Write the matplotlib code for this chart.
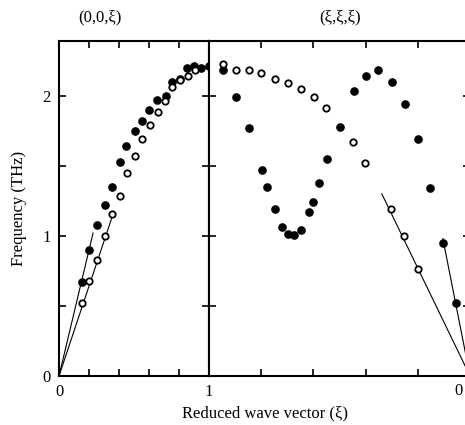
import matplotlib
matplotlib.use('Agg')
import matplotlib.pyplot as plt

plt.rcParams['font.family'] = ['Liberation Serif', 'DejaVu Serif']

# (0,0,xi) branch, left panel
left_filled_x = [0.153, 0.198, 0.256, 0.307, 0.353, 0.409, 0.449, 0.504, 0.551, 0.602, 0.656,
                 0.711, 0.756, 0.809, 0.856, 0.900, 0.949, 1.000]
left_filled_f = [0.67, 0.90, 1.08, 1.22, 1.35, 1.53, 1.64, 1.75, 1.82, 1.895, 1.97,
                 2.00, 2.095, 2.12, 2.20, 2.21, 2.20, 2.21]
left_open_x = [0.155, 0.202, 0.256, 0.307, 0.355, 0.404, 0.453, 0.504, 0.553, 0.609, 0.658,
               0.704, 0.753, 0.809, 0.858, 0.904]
left_open_f = [0.52, 0.68, 0.83, 1.00, 1.155, 1.285, 1.445, 1.57, 1.69, 1.79, 1.885,
               1.96, 2.06, 2.11, 2.14, 2.18]
# sound velocity lines (end points)
left_line_filled = [[0, 0.227], [0, 1.02]]
left_line_open = [[0, 0.362], [0, 1.16]]

# (xi,xi,xi) branch, right panel
right_filled_x = [0.474, 0.449, 0.423, 0.398, 0.388, 0.373, 0.360, 0.348, 0.337, 0.324, 0.309,
                  0.300, 0.289, 0.274, 0.249, 0.222, 0.200, 0.176, 0.150, 0.124, 0.100,
                  0.077, 0.052, 0.026]
right_filled_f = [2.18, 1.99, 1.77, 1.47, 1.35, 1.19, 1.06, 1.016, 1.007, 1.04, 1.17,
                  1.24, 1.375, 1.545, 1.78, 2.03, 2.14, 2.18, 2.10, 1.94, 1.69,
                  1.34, 0.95, 0.52]
right_open_x = [0.474, 0.448, 0.424, 0.400, 0.373, 0.349, 0.324, 0.298, 0.275, 0.225, 0.201,
                0.151, 0.126, 0.100]
right_open_f = [2.225, 2.18, 2.18, 2.16, 2.12, 2.09, 2.045, 1.99, 1.91, 1.67, 1.52,
                1.19, 1.00, 0.76]
right_line_filled = [[0, 0.052], [0, 0.98]]
right_line_open = [[0, 0.169], [0, 1.30]]

fig = plt.figure(figsize=(4.65, 4.25), dpi=100)
ax1 = fig.add_axes([59/465, 49/425, 150/465, 335/425])
ax2 = fig.add_axes([209/465, 49/425, 261/465, 335/425])

ms = 5.2
ax1.plot(left_line_filled[0], left_line_filled[1], color='black', lw=0.8)
ax1.plot(left_line_open[0], left_line_open[1], color='black', lw=0.8)
ax1.plot(left_filled_x, left_filled_f, 'o', color='black', ms=ms, clip_on=False, zorder=3)
ax1.plot(left_open_x, left_open_f, 'o', mfc='white', mec='black', mew=1.3, ms=ms - 0.6, clip_on=False, zorder=3)

ax2.plot(right_line_filled[0], right_line_filled[1], color='black', lw=0.8)
ax2.plot(right_line_open[0], right_line_open[1], color='black', lw=0.8)
ax2.plot(right_filled_x, right_filled_f, 'o', color='black', ms=ms, clip_on=False, zorder=3)
ax2.plot(right_open_x, right_open_f, 'o', mfc='white', mec='black', mew=1.3, ms=ms - 0.6, clip_on=False, zorder=3)

ax1.set_xlim(0, 1)
ax2.set_xlim(0.5, 0)
for ax in (ax1, ax2):
    ax.set_ylim(0, 2.39)
    ax.set_yticks([0, 0.5, 1, 1.5, 2])
    for s in ax.spines.values():
        s.set_linewidth(1.5)
    ax.tick_params(direction='in', length=5, width=1.2, top=True, right=True, labelsize=12)

ax1.set_yticklabels(['0', '', '1', '', '2'])
ax2.set_yticklabels([])
ax1.set_xticks([0, 0.2, 0.4, 0.6, 0.8, 1.0])
ax1.set_xticklabels(['0', '', '', '', '', '1'])
ax2.set_xticks([0.5, 0.4, 0.3, 0.2, 0.1, 0.0])
ax2.set_xticklabels([])
ax2.tick_params(axis='y', left=True, right=True)
ax1.tick_params(pad=6)
ax2.tick_params(pad=6)

# right end label of the xi axis sits at the cropped edge
fig.text(463/465, 1 - 391/425, '0', fontsize=12, ha='right', va='center')

ax1.set_ylabel('Frequency (THz)', fontsize=12, labelpad=11)
fig.text(265/465, 1 - 413/425, 'Reduced wave vector (\u03be)', fontsize=12, ha='center', va='center')
fig.text(100/465, 1 - 17/425, '(0,0,\u03be)', fontsize=12, ha='center', va='center')
fig.text(340/465, 1 - 17/425, '(\u03be,\u03be,\u03be)', fontsize=12, ha='center', va='center')

plt.savefig('out.png', dpi=100)
